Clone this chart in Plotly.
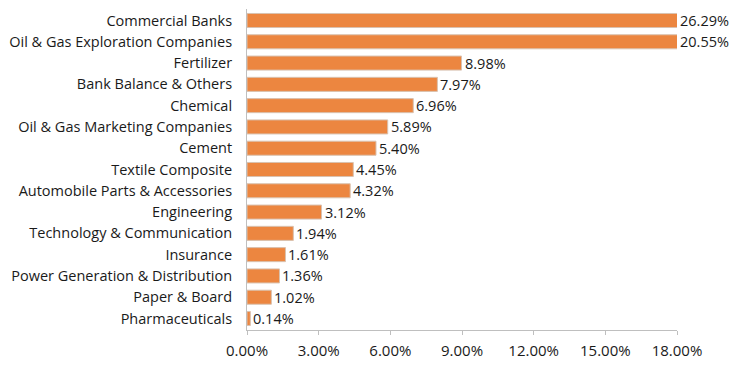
import plotly.graph_objects as go

categories = [
    "Commercial Banks", "Oil & Gas Exploration Companies", "Fertilizer",
    "Bank Balance & Others", "Chemical", "Oil & Gas Marketing Companies",
    "Cement", "Textile Composite", "Automobile Parts & Accessories",
    "Engineering", "Technology & Communication", "Insurance",
    "Power Generation & Distribution", "Paper & Board", "Pharmaceuticals",
]
values = [26.29, 20.55, 8.98, 7.97, 6.96, 5.89, 5.40, 4.45, 4.32, 3.12,
          1.94, 1.61, 1.36, 1.02, 0.14]
tick_vals = [0, 3, 6, 9, 12, 15, 18]
tick_text = ["0.00%", "3.00%", "6.00%", "9.00%", "12.00%", "15.00%", "18.00%"]
x_max = 18

font = "Open Sans"

fig = go.Figure()
fig.add_trace(go.Bar(
    y=categories, x=values, orientation="h",
    marker=dict(color="#EC8640", line=dict(color="#D9C2B0", width=1)),
    width=0.66,
))

for c, v in zip(categories, values):
    fig.add_annotation(
        x=min(v, x_max), y=c, text=f"{v:.2f}%", showarrow=False,
        xanchor="left", xshift=1, font=dict(family=font, size=14.5, color="#1a1a1a"),
    )

fig.update_layout(
    width=740, height=365,
    margin=dict(l=247, r=63, t=9, b=35),
    paper_bgcolor="white", plot_bgcolor="white",
    showlegend=False,
    font=dict(family=font, size=14.5, color="#1a1a1a"),
    bargap=0.3,
)
fig.update_xaxes(
    range=[0, x_max], tickvals=tick_vals, ticktext=tick_text,
    showgrid=False, zeroline=False, showline=True, linecolor="#BFBFBF",
    ticks="outside", tickcolor="#BFBFBF", ticklen=4,
    ticklabelstandoff=3, automargin=False,
    tickfont=dict(family=font, size=15),
)
fig.update_yaxes(
    categoryorder="array", categoryarray=categories[::-1],
    showgrid=False, showline=True, linecolor="#BFBFBF", ticks="",
    ticklabelstandoff=11, automargin=False, tickfont=dict(family=font, size=14.5),
)

fig.write_html("out.html")
